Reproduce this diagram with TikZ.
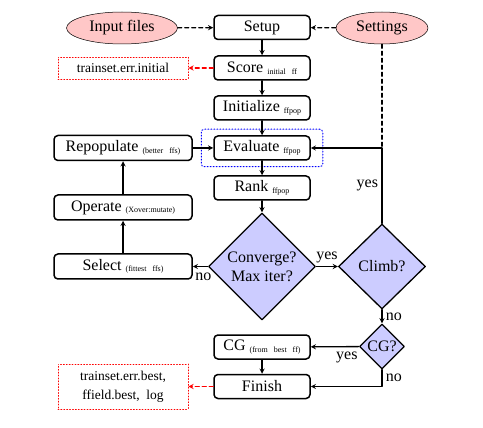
\documentclass[tikz,border=0pt]{standalone}
\usepackage{fontspec}
\setmainfont{Liberation Serif}
\usetikzlibrary{positioning,shapes.geometric,fit,arrows}

% small tag after a step name
\newcommand{\smalltag}[1]{\hspace{4pt}\raisebox{-1.5pt}{\fontsize{8}{9}\selectfont #1}}

\begin{document}
\begin{tikzpicture}[x=1pt,y=-1pt, font=\fontsize{16}{19}\selectfont, line cap=round, line join=round, >=stealth]
	\useasboundingbox (0,0) rectangle (483,428);
	
	% ===== styles =====
	\tikzset{
		stepbox/.style={draw, line width=1.5pt, rounded corners=4pt, minimum width=96, minimum height=24, inner sep=2pt},
		sidebox/.style={stepbox, minimum width=138, minimum height=25},
		inbox/.style={draw, ellipse, fill=red!22, line width=0.5pt, minimum height=32, inner sep=0pt},
		outbox/.style={draw=red, dotted, line width=0.9pt, minimum width=130, font=\fontsize{13.5}{19}\selectfont},
		dotbox/.style={draw=blue, dotted, line width=1pt, rounded corners=3pt, inner xsep=12pt, inner ysep=6pt},
		decide/.style={draw, diamond, fill=blue!20, line width=1.3pt, inner sep=0pt, aspect=1},
		flow/.style={->, line width=1.3pt},
		dashflow/.style={->, line width=1.3pt, dash pattern=on 4pt off 3pt},
		outflow/.style={dashflow, red}
	}
	
	% ===== main column =====
	\node[stepbox] (setup) at (262,27.5) {Setup};
	\node[inbox, minimum width=111] (input) at (122,28) {Input files};
	\node[inbox, minimum width=92] (settings) at (382,28) {Settings};
	\node[stepbox] (score) at (262,68) {Score\smalltag{initial\hspace{6pt}ff}};
	\node[outbox, minimum height=22] (errinit) at (123,68) {trainset.err.initial};
	\node[stepbox] (init) at (262,108) {Initialize\smalltag{ffpop}};
	\node[stepbox] (eval) at (262,148) {Evaluate\smalltag{ffpop}};
	\node[dotbox, fit=(eval)] (evalzone) {};
	\node[stepbox] (rank) at (262,188) {Rank\smalltag{ffpop}};
	\node[decide, minimum width=107, minimum height=107, align=center] (conv) at (262,266.5) {Converge?\\Max iter?};
	
	% ===== left loop =====
	\node[sidebox] (repop) at (123,148) {Repopulate\smalltag{(better\hspace{6pt}ffs)}};
	\node[sidebox] (operate) at (123,207.5) {Operate\smalltag{(Xover:mutate)}};
	\node[sidebox] (select) at (123,266.5) {Select\smalltag{(fittest\hspace{6pt}ffs)}};
	
	% ===== right branch =====
	\node[decide, minimum width=87, minimum height=85] (climb) at (382,266.5) {Climb?};
	\node[decide, minimum width=45, minimum height=45] (cgq) at (382,346.5) {CG?};
	\node[stepbox] (cg) at (262,347) {CG\smalltag{(from\hspace{6pt}best\hspace{6pt}ff)}};
	\node[stepbox] (finish) at (262,386.5) {Finish};
	\node[outbox, minimum height=45, align=center] (errbest) at (123,386.5) {trainset.err.best,\\ffield.best,\ \ log};
	\coordinate (join) at (settings |- eval);
	
	% ===== connectors =====
	\draw[dashflow] (input) -- (setup);
	\draw[dashflow] (settings) -- (setup);
	\draw[line width=1.3pt, dash pattern=on 4pt off 3pt] (settings) -- (join);
	\draw[outflow] (score) -- (errinit);
	\draw[outflow] (finish) -- (errbest);
	\draw[flow] (setup) -- (score);
	\draw[flow] (score) -- (init);
	\draw[flow] (init) -- (eval);
	\draw[flow] (eval) -- (rank);
	\draw[flow] (rank) -- (conv);
	\draw[flow] (conv) -- node[pos=0.3, below=2pt]{no} (select);
	\draw[flow] (select) -- (operate);
	\draw[flow] (operate) -- (repop);
	\draw[flow] (repop) -- (eval);
	\draw[flow] (conv) -- node[above]{yes} (climb);
	\draw[flow] (climb) |- node[pos=0.25, left]{yes} (eval);
	\draw[flow] (climb) -- node[right]{no} (cgq);
	\draw[flow] (cgq) -- node[pos=0.25, below=1pt]{yes} (cg);
	\draw[flow] (cg) -- (finish);
	\draw[flow] (cgq) |- node[pos=0.25, right]{no} (finish);
\end{tikzpicture}
\end{document}
